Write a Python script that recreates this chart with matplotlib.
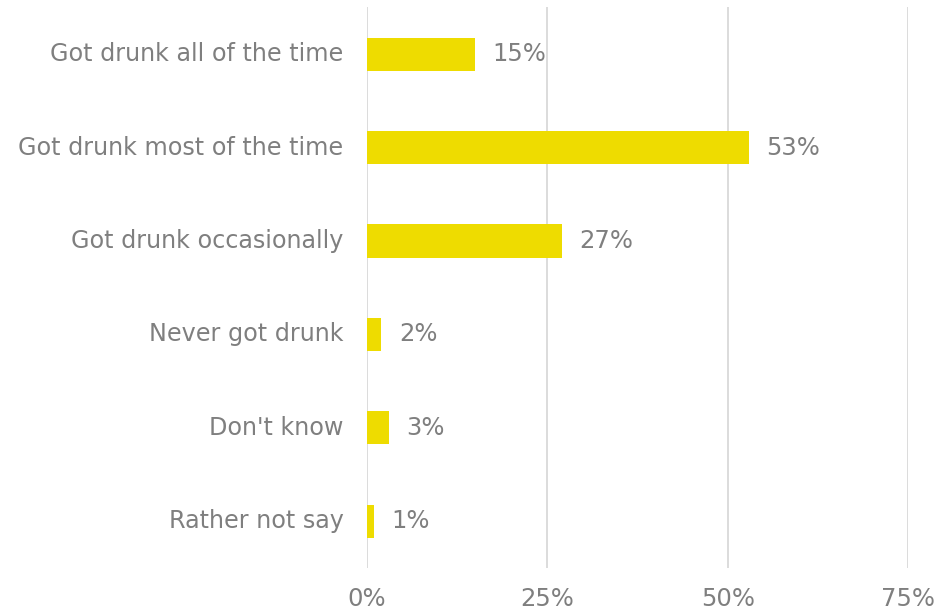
import matplotlib
matplotlib.use("Agg")
import matplotlib.pyplot as plt
from matplotlib.ticker import FixedLocator

categories = [
    "Got drunk all of the time",
    "Got drunk most of the time",
    "Got drunk occasionally",
    "Never got drunk",
    "Don't know",
    "Rather not say",
]
values = [15, 53, 27, 2, 3, 1]
x_ticks = [0, 25, 50, 75]
x_tick_labels = ["0%", "25%", "50%", "75%"]

text_color = "#7f7f7f"
bar_color = "#eedc00"
grid_color = "#d9d9d9"
font = "DejaVu Sans"

fig = plt.figure(figsize=(9.38, 6.16), dpi=100)
ax = fig.add_axes([0.3913, 0.078, 0.5767, 0.910])

pos = list(range(len(categories)))
ax.barh(pos, values, height=0.355, color=bar_color, zorder=3)
ax.set_ylim(len(categories) - 0.5, -0.5)
ax.set_xlim(0, 75)

for p, v in zip(pos, values):
    ax.text(v + 2.4, p, f"{v}%", va="center", ha="left", fontsize=17.5,
            color=text_color, family=font)

ax.set_yticks(pos)
ax.set_yticklabels(categories, fontsize=17.2, color=text_color, family=font,
                   va="center")
ax.xaxis.set_major_locator(FixedLocator(x_ticks))
ax.set_xticklabels(x_tick_labels, fontsize=17.5, color=text_color, family=font)
ax.tick_params(axis="both", length=0)
ax.tick_params(axis="y", pad=17)
ax.tick_params(axis="x", pad=14)

ax.grid(axis="x", color=grid_color, linewidth=1.3, zorder=0)
for s in ax.spines.values():
    s.set_visible(False)

fig.savefig("out.png", dpi=100)
